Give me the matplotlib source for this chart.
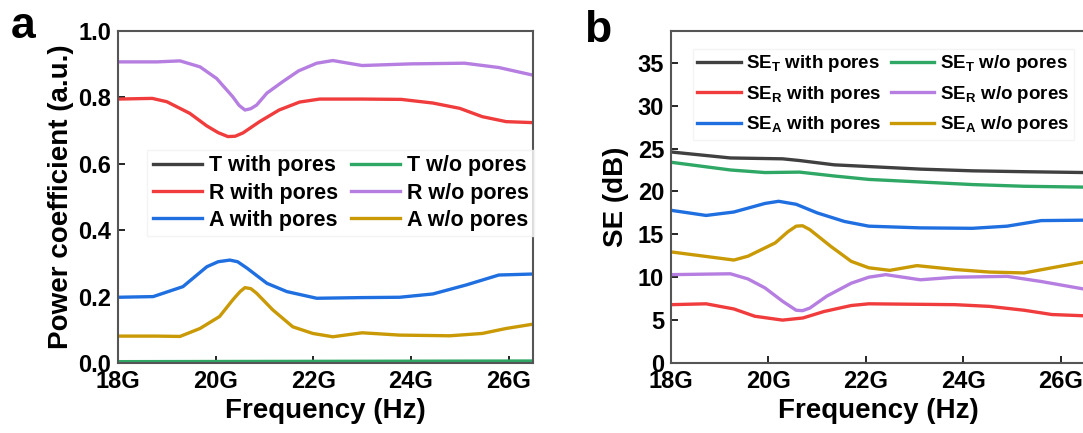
import matplotlib.pyplot as plt
import numpy as np

plt.rcParams['font.family'] = ['Liberation Sans', 'DejaVu Sans']
plt.rcParams['font.weight'] = 'bold'
plt.rcParams['mathtext.fontset'] = 'custom'
plt.rcParams['mathtext.rm'] = 'Liberation Sans:bold'

# ---- panel a : power coefficients (frequency in GHz) ----
f_Rw = [18.0, 18.7, 19.0, 19.47, 19.82, 20.05, 20.25, 20.4, 20.56, 20.9, 21.3, 21.72, 22.13, 23.0, 23.8, 24.45, 25.0, 25.46, 25.95, 26.5]
R_with = [0.795, 0.797, 0.787, 0.752, 0.714, 0.694, 0.682, 0.683, 0.693, 0.727, 0.762, 0.786, 0.795, 0.795, 0.794, 0.783, 0.767, 0.742, 0.727, 0.724]

f_Ro = [18.0, 18.8, 19.27, 19.68, 20.02, 20.35, 20.48, 20.6, 20.72, 20.84, 21.05, 21.37, 21.7, 22.07, 22.4, 23.0, 24.0, 25.1, 25.8, 26.5]
R_wo = [0.907, 0.907, 0.91, 0.892, 0.857, 0.802, 0.776, 0.762, 0.766, 0.777, 0.813, 0.847, 0.88, 0.903, 0.911, 0.896, 0.901, 0.903, 0.89, 0.867]

f_Aw = [18.0, 18.72, 19.33, 19.82, 20.05, 20.29, 20.45, 20.64, 21.05, 21.46, 22.07, 23.0, 23.77, 24.45, 25.13, 25.8, 26.5]
A_with = [0.198, 0.2, 0.23, 0.29, 0.305, 0.31, 0.305, 0.286, 0.24, 0.215, 0.195, 0.197, 0.198, 0.208, 0.235, 0.265, 0.268]

f_Ao = [18.0, 18.8, 19.27, 19.68, 20.08, 20.35, 20.5, 20.6, 20.72, 20.84, 21.17, 21.58, 21.99, 22.4, 23.0, 23.77, 24.8, 25.46, 25.95, 26.5]
A_wo = [0.081, 0.081, 0.08, 0.104, 0.14, 0.19, 0.215, 0.227, 0.224, 0.21, 0.16, 0.109, 0.089, 0.079, 0.091, 0.084, 0.082, 0.089, 0.104, 0.117]

f_T = [18.0, 22.0, 26.5]
T_with = [0.003, 0.003, 0.004]
T_wo = [0.004, 0.005, 0.006]

# ---- panel b : shielding effectiveness (dB) ----
f_SETw = [18.0, 19.22, 20.29, 20.64, 21.35, 22.06, 23.12, 24.19, 25.25, 26.5]
SET_with = [24.6, 23.9, 23.8, 23.6, 23.1, 22.9, 22.6, 22.4, 22.3, 22.2]
f_SETo = [18.0, 19.22, 19.93, 20.64, 21.35, 22.06, 23.12, 24.19, 25.25, 26.5]
SET_wo = [23.4, 22.5, 22.2, 22.25, 21.8, 21.4, 21.1, 20.8, 20.6, 20.5]

f_SEAw = [18.0, 18.72, 19.29, 19.93, 20.21, 20.57, 21.0, 21.56, 22.06, 23.12, 24.19, 24.9, 25.6, 26.5]
SEA_with = [17.8, 17.2, 17.6, 18.6, 18.85, 18.5, 17.5, 16.5, 15.95, 15.75, 15.7, 15.95, 16.6, 16.65]
f_SEAo = [18.0, 19.29, 19.58, 20.14, 20.4, 20.57, 20.7, 20.85, 21.28, 21.7, 22.06, 22.49, 23.05, 23.83, 24.54, 25.25, 25.82, 26.5]
SEA_wo = [12.95, 12.0, 12.45, 14.0, 15.3, 15.95, 16.0, 15.55, 13.6, 11.85, 11.1, 10.8, 11.35, 10.9, 10.6, 10.5, 11.1, 11.8]

f_SERw = [18.0, 18.72, 19.29, 19.72, 20.29, 20.71, 21.14, 21.7, 22.06, 23.83, 24.54, 25.25, 25.82, 26.5]
SER_with = [6.8, 6.9, 6.3, 5.45, 5.0, 5.25, 6.0, 6.7, 6.9, 6.8, 6.6, 6.15, 5.65, 5.5]
f_SERo = [18.0, 19.22, 19.58, 19.93, 20.29, 20.57, 20.7, 20.85, 21.2, 21.7, 22.06, 22.41, 23.12, 23.83, 24.9, 25.6, 26.5]
SER_wo = [10.3, 10.4, 9.8, 8.75, 7.2, 6.15, 6.1, 6.4, 7.8, 9.3, 10.0, 10.3, 9.7, 10.0, 10.1, 9.5, 8.6]

xticks = [18, 20, 22, 24, 26]
xticklabels = ['18G', '20G', '22G', '24G', '26G']

c_k, c_g, c_r = '#404040', '#2fa866', '#f03c3c'
c_p, c_b, c_y = '#b57ee0', '#1f6fe0', '#c99a06'
lw = 2.4

fig = plt.figure(figsize=(10.83, 4.33), dpi=100)
ax1 = fig.add_axes([118/1083, 70/433, 415/1083, 332/433])
ax2 = fig.add_axes([671/1083, 70/433, 414/1083, 332/433])

ax1.plot(f_T, T_with, color=c_k, lw=lw, label='T with pores')
ax1.plot(f_T, T_wo, color=c_g, lw=lw, label='T w/o pores')
ax1.plot(f_Rw, R_with, color=c_r, lw=lw, label='R with pores')
ax1.plot(f_Ro, R_wo, color=c_p, lw=lw, label='R w/o pores')
ax1.plot(f_Aw, A_with, color=c_b, lw=lw, label='A with pores')
ax1.plot(f_Ao, A_wo, color=c_y, lw=lw, label='A w/o pores')
ax1.set_xlim(18, 26.5)
ax1.set_ylim(0, 1.0)
ax1.set_yticks([0.0, 0.2, 0.4, 0.6, 0.8, 1.0])
ax1.set_ylabel('Power coefficient (a.u.)', fontsize=20, fontweight='bold', labelpad=3)
h, l = ax1.get_legend_handles_labels()
order = [0, 2, 4, 1, 3, 5]
ax1.legend([h[i] for i in order], [l[i] for i in order], ncol=2, fontsize=15.5,
           loc='upper left', bbox_to_anchor=(0.045, 0.675), handlelength=2.3,
           columnspacing=0.6, handletextpad=0.3, labelspacing=0.3,
           frameon=True, edgecolor='#f2f2f2', fancybox=False, borderpad=0.25)

ax2.plot(f_SETw, SET_with, color=c_k, lw=lw, label='SE$_\\mathrm{T}$ with pores')
ax2.plot(f_SETo, SET_wo, color=c_g, lw=lw, label='SE$_\\mathrm{T}$ w/o pores')
ax2.plot(f_SERw, SER_with, color=c_r, lw=lw, label='SE$_\\mathrm{R}$ with pores')
ax2.plot(f_SERo, SER_wo, color=c_p, lw=lw, label='SE$_\\mathrm{R}$ w/o pores')
ax2.plot(f_SEAw, SEA_with, color=c_b, lw=lw, label='SE$_\\mathrm{A}$ with pores')
ax2.plot(f_SEAo, SEA_wo, color=c_y, lw=lw, label='SE$_\\mathrm{A}$ w/o pores')
ax2.set_xlim(18, 26.5)
ax2.set_ylim(0, 38.7)
ax2.set_yticks([0, 5, 10, 15, 20, 25, 30, 35])
ax2.set_ylabel('SE (dB)', fontsize=20, fontweight='bold', labelpad=6)
h, l = ax2.get_legend_handles_labels()
ax2.legend([h[i] for i in order], [l[i] for i in order], ncol=2, fontsize=13.5,
           loc='upper left', bbox_to_anchor=(0.03, 0.975), handlelength=2.3,
           columnspacing=0.5, handletextpad=0.3, labelspacing=0.5,
           frameon=True, edgecolor='#f2f2f2', fancybox=False, borderpad=0.25)

for ax in (ax1, ax2):
    ax.set_xticks(xticks)
    ax.set_xticklabels(xticklabels)
    ax.set_xlabel('Frequency (Hz)', fontsize=20, fontweight='bold', labelpad=4)
    ax.tick_params(direction='in', length=5, width=1.2, labelsize=17, colors='#000000')
    ax.tick_params(axis='x', pad=5)
    ax.tick_params(axis='y', pad=5)
    for s in ax.spines.values():
        s.set_linewidth(1.5)
        s.set_color('#555555')

fig.text(23/1083, 1 - 27/433, 'a', fontsize=32, fontweight='bold', ha='center', va='center')
fig.text(598/1083, 1 - 30/433, 'b', fontsize=32, fontweight='bold', ha='center', va='center')

fig.savefig('out.png', dpi=100)
